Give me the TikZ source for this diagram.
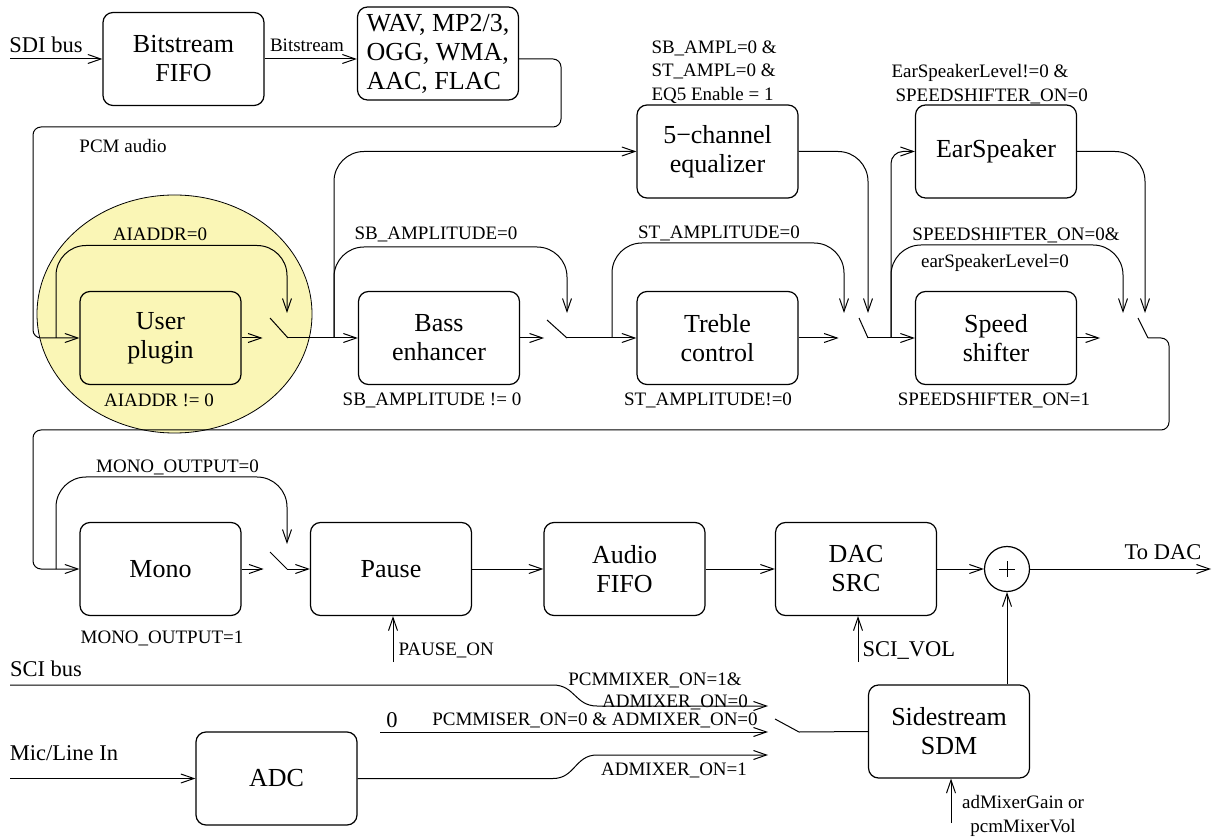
\documentclass[tikz,border=0pt]{standalone}
\usepackage{fontspec}
\setmainfont{Liberation Serif}
\usetikzlibrary{arrows.meta}
\usetikzlibrary{calc}
\usetikzlibrary{positioning}

\definecolor{plugin yellow}{RGB}{250,246,182}

\tikzset{
    % Open arrow heads, as the old drawing had them
    >={Straight Barb[length=6.5pt,width=4.5pt]},
%
    % A processing block of the audio chain
    block/.style={
        draw, rounded corners=5pt, line width=0.6pt, align=center,
        minimum width=80.5pt, minimum height=46.5pt, inner sep=2pt,
        font=\fontsize{13}{14.5}\selectfont},
%
    % Condition written next to a switch
    cond label/.style={font=\fontsize{9.5}{11.75}\selectfont, inner sep=0pt},
%
    % Names of buses and outside signals
    bus label/.style={font=\fontsize{11.25}{13}\selectfont, inner sep=0pt},
%
    % Line that goes round a block
    bypass/.style={->, rounded corners=15pt},
%
    % Line that comes back to the start of a row
    return wire/.style={->, rounded corners=4pt}}

\begin{document}
\begin{tikzpicture}[x=0.5pt, y=-0.5pt, line width=0.5pt]
\useasboundingbox (0,0) rectangle (1213,838);

% Yellow area round the user plugin
\draw[fill=plugin yellow, line width=0.4pt]
    (174.5,314) ellipse [x radius=68.75pt, y radius=59.5pt];

% Bitstream input and decoder
\node[block] (bitstream fifo) at (183.5,59) {Bitstream\\FIFO};
\node[block, align=left] (decoder) at (438,53.5)
    {WAV, MP2/3,\\OGG, WMA,\\AAC, FLAC};
\node[bus label] (sdi label) at (46,45) {SDI bus};
\coordinate (sdi in) at (10,59);
\draw[->] (sdi in) -- (bitstream fifo.west);
\node[cond label] (bitstream label) at (307,45) {Bitstream};
\draw[->] (bitstream fifo.east) -- (bitstream fifo.east -| decoder.west);

% Second row: plugin, bass, treble, speed
\node[block] (user plugin) at (160.5,338) {User\\plugin};
\node[block] (bass enhancer) at (439,338) {Bass\\enhancer};
\node[block] (treble control) at (717.5,338) {Treble\\control};
\node[block] (speed shifter) at (996,338) {Speed\\shifter};
\node[block] (equalizer) at (717.5,151.5) {5−channel\\equalizer};
\node[block] (ear speaker) at (996,151.5) {EarSpeaker};

\draw[return wire] (bitstream fifo.east -| decoder.east) -- (561,59)
    -- (561,127) -- (33,127) -- (33,338) -- (user plugin.west);
\node[cond label] (pcm label) at (123,146) {PCM audio};

\coordinate (plugin switch) at (288,338);
\coordinate (bass switch) at (567,338);
\coordinate (treble switch) at (868,338);
\coordinate (speed switch) at (1148,338);
\coordinate (plugin tap) at (56,338);
\coordinate (bass tap) at (334,338);
\coordinate (treble tap) at (612,338);
\coordinate (speed tap) at (891,338);

\draw (plugin switch) -- ++(-18,-20);
\draw (bass switch) -- ++(-20,-18);
\draw (treble switch) -- ++(-9,-20);
\draw (speed switch) -- ++(-10,-20);

\draw[->] (user plugin.east) -- ++(21,0);
\draw[->] (bass enhancer.east) -- ++(24,0);
\draw[->] (treble control.east) -- ++(40,0);
\draw[->] (speed shifter.east) -- ++(23,0);
\draw[->] (plugin switch) -- (bass enhancer.west);
\draw[->] (bass switch) -- (treble control.west);
\draw[->] (treble switch) -- (speed shifter.west);

\draw[bypass] (plugin tap) -- ++(0,-92.5) -- ++(231,0) -- ++(0,67.5);
\draw[bypass] (bass tap) -- ++(0,-91) -- ++(233,0) -- ++(0,66);
\draw[bypass] (treble tap) -- ++(0,-95) -- ++(232,0) -- ++(0,70);
\draw[bypass] (speed tap) -- ++(0,-93) -- ++(232,0) -- ++(0,68);

\draw[bypass] (bass tap) |- (equalizer.west);
\draw[bypass] (equalizer.east) -| ($(treble switch)+(0,-25)$);
\draw[->, rounded corners=6pt] (speed tap) |- (ear speaker.west);
\draw[bypass] (ear speaker.east) -| ($(speed switch)+(-3,-25)$);

\node[cond label] at (160,234) {AIADDR=0};
\node[cond label] at (159,400) {AIADDR != 0};
\node[cond label] at (436,234) {SB\_AMPLITUDE=0};
\node[cond label] at (432,400) {SB\_AMPLITUDE != 0};
\node[cond label] at (719,233) {ST\_AMPLITUDE=0};
\node[cond label] at (708,400) {ST\_AMPLITUDE!=0};
\node[cond label] at (1016,235) {SPEEDSHIFTER\_ON=0\&};
\node[cond label] at (995,263) {earSpeakerLevel=0};
\node[cond label] at (994,400) {SPEEDSHIFTER\_ON=1};
\node[cond label, align=left, anchor=west] at (651,72)
    {SB\_AMPL=0 \&\\ST\_AMPL=0 \&\\EQ5 Enable = 1};
\node[cond label, align=left, anchor=west] at (891,84)
    {EarSpeakerLevel!=0 \&\\\hspace*{2pt}SPEEDSHIFTER\_ON=0};

% Third row: mono, pause, FIFO, DAC
\node[block] (mono) at (160.5,569) {Mono};
\node[block] (pause) at (391,569) {Pause};
\node[block] (audio fifo) at (624.5,569) {Audio\\FIFO};
\node[block] (dac src) at (856,569) {DAC\\SRC};
\node[draw, circle, minimum size=22.5pt, inner sep=0pt, line width=0.6pt]
    (mixer sum) at (1007,569) {};
\draw (mixer sum.center) +(-8,0) -- +(8,0) +(0,-8) -- +(0,8);

% Back to the third row
\draw[return wire] (speed switch) -- (1169,338) -- (1169,430)
    -- (33,430) -- (33,569) -- (mono.west);

\coordinate (mono tap) at (56,569);
\coordinate (mono switch) at (287,569);
\draw (mono switch) -- ++(-17,-17);
\draw[->] (mono.east) -- ++(22,0);
\draw[->] (mono switch) -- (pause.west);
\draw[bypass] (mono tap) -- ++(0,-92) -- ++(231,0) -- ++(0,67);
\node[cond label] at (177.5,467) {MONO\_OUTPUT=0};
\node[cond label] at (162,638) {MONO\_OUTPUT=1};

\draw[->] (pause) -- (audio fifo);
\draw[->] (audio fifo) -- (dac src);
\draw[->] (dac src) -- (mixer sum);
\coordinate (dac out) at (1211,569);
\draw[->] (mixer sum) -- (dac out);
\node[bus label] at (1163,552) {To DAC};

\coordinate (pause ctl) at (393,662);
\draw[->] (pause ctl) -- (pause ctl |- pause.south);
\node[cond label, anchor=west] at (398,650) {PAUSE\_ON};
\coordinate (vol ctl) at (858,662);
\draw[->] (vol ctl) -- (vol ctl |- dac src.south);
\node[bus label, anchor=west] at (862,650) {SCI\_VOL};

% Side stream mixing
\node[bus label] (sci label) at (46,669) {SCI bus};
\coordinate (sci in) at (10,685);
\coordinate (pcm mix in) at (768,706);
\coordinate (zero src) at (380,732);
\coordinate (zero mix in) at (768,732);
\coordinate (adc mix in) at (768,755);
\draw[->] (sci in) -- (553,685) .. controls (575,685) and (575,706) .. (597,706)
    -- (pcm mix in);
\draw[->] (zero src) -- (zero mix in);
\node[bus label] (zero label) at (392,720) {0};

\node[block] (adc) at (276.5,778.5) {ADC};
\node[bus label] (mic label) at (64,753) {Mic/Line In};
\coordinate (mic in) at (10,778.5);
\draw[->] (mic in) -- (adc.west);
\draw[->] (adc.east) -- (553,778.5) .. controls (575,778.5) and (575,755) .. (597,755)
    -- (adc mix in);

\node[cond label] at (655,680) {PCMMIXER\_ON=1\&};
\node[cond label] at (675,702) {ADMIXER\_ON=0};
\node[cond label] at (595,720) {PCMMISER\_ON=0 \& ADMIXER\_ON=0};
\node[cond label] at (674,770) {ADMIXER\_ON=1};

\node[block] (sidestream) at (949,731.5) {Sidestream\\SDM};
\coordinate (mix switch) at (799,732);
\draw (mix switch) -- ++(-24,-13);
\draw (mix switch) -- (sidestream.west);
\draw[->] (sidestream.north -| mixer sum) -- (mixer sum.south);
\coordinate (gain ctl) at (951,823);
\draw[->] (gain ctl) -- (gain ctl |- sidestream.south);
\node[cond label, align=center] at (1023,816) {adMixerGain or\\pcmMixerVol};

\end{tikzpicture}
\end{document}
